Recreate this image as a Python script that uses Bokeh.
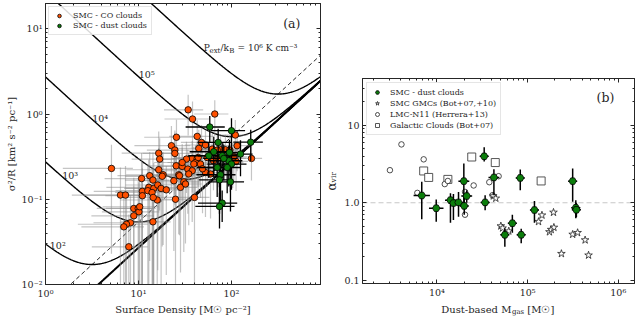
import numpy as np
from bokeh.plotting import figure
from bokeh.layouts import row, column
from bokeh.models import (LogAxis, LogTicker, CustomJSTickFormatter, Label, Span,
                          Legend, LegendItem, Spacer)
from bokeh.embed import file_html
from bokeh.resources import INLINE

FONT = "DejaVu Serif"
INK = "#262626"

# ---------------- panel (a): SMC CO clouds ----------------
sd_co = [34.2, 66.1, 38.1, 25.6, 42.8, 47.6, 44.5, 22.6, 24.6, 24.6,
         16.5, 16.9, 5.12, 16.5, 18.4, 25.4, 29.5, 33.9, 37.8, 42.8,
         41.0, 27.1, 52.5, 62.0, 76.2, 86.1, 110, 115, 164, 103,
         43.9, 54.8, 10.8, 13.2, 14.3, 18.0, 12.9, 14.6, 16.1, 17.5,
         11.0, 11.0, 12.6, 15.9, 19.9, 25.0, 24.0, 27.6, 30.7, 28.3,
         40.0, 37.8, 6.4, 7.25, 8.9, 9.93, 10.1, 8.9, 8.2, 7.43,
         6.95, 7.87, 14.3, 52.5, 59.5, 14.0, 14.4, 32.0, 34.7, 39.3,
         10.3, 46.4, 32.8, 29.5, 70.2, 95.9, 95.9, 112, 106, 64,
         72.5, 48.8]
vir_co = [1.12, 1.00, 0.874, 0.534, 0.546, 0.464, 0.395, 0.425, 0.378, 0.345,
          0.347, 0.296, 0.230, 0.222, 0.194, 0.247, 0.243, 0.226, 0.301, 0.301,
          0.270, 0.194, 0.433, 0.388, 0.381, 0.381, 0.567, 0.425, 0.301, 0.301,
          0.309, 0.309, 0.175, 0.189, 0.168, 0.186, 0.138, 0.134, 0.147, 0.134,
          0.124, 0.110, 0.126, 0.098, 0.129, 0.100, 0.165, 0.189, 0.160, 0.138,
          0.105, 0.216, 0.112, 0.112, 0.078, 0.078, 0.0713, 0.064, 0.053, 0.0509,
          0.0475, 0.0277, 0.0544, 0.206, 0.198, 0.120, 0.105, 0.151, 0.198, 0.259,
          0.0817, 0.259, 0.296, 0.270, 0.378, 0.378, 0.270, 0.278, 0.315, 0.283,
          0.307, 0.228]
# fractional (linear) uncertainties
sd_co_ferr = [0.45, 0.4, 0.5, 0.55, 0.5, 0.4, 0.45, 0.6, 0.5, 0.55,
              0.6, 0.5, 0.7, 0.55, 0.6, 0.5, 0.45, 0.5, 0.4, 0.45,
              0.5, 0.55, 0.4, 0.35, 0.4, 0.45, 0.35, 0.4, 0.3, 0.4,
              0.45, 0.4, 0.6, 0.55, 0.5, 0.6, 0.65, 0.5, 0.55, 0.6,
              0.7, 0.6, 0.55, 0.6, 0.5, 0.5, 0.55, 0.45, 0.5, 0.5,
              0.45, 0.5, 0.7, 0.65, 0.6, 0.55, 0.6, 0.65, 0.6, 0.7,
              0.65, 0.6, 0.55, 0.4, 0.45, 0.6, 0.55, 0.5, 0.45, 0.4,
              0.6, 0.45, 0.5, 0.5, 0.4, 0.35, 0.4, 0.35, 0.4, 0.4,
              0.4, 0.45]
vir_co_ferr = [0.5, 0.45, 0.6, 0.6, 0.55, 0.6, 0.65, 0.7, 0.7, 0.75,
               0.8, 0.75, 0.9, 0.8, 0.85, 0.7, 0.65, 0.7, 0.6, 0.55,
               0.6, 0.8, 0.5, 0.5, 0.45, 0.5, 0.5, 0.5, 0.45, 0.55,
               0.6, 0.55, 1.0, 0.9, 1.1, 0.85, 1.1, 1.0, 0.9, 0.95,
               1.2, 1.1, 1.0, 1.2, 0.9, 1.0, 0.85, 0.8, 0.85, 0.9,
               1.0, 0.75, 1.1, 1.2, 1.3, 1.1, 1.2, 1.2, 1.1, 1.3,
               1.2, 1.4, 1.1, 0.7, 0.7, 1.0, 1.1, 0.8, 0.75, 0.6,
               1.1, 0.6, 0.6, 0.65, 0.5, 0.5, 0.55, 0.55, 0.5, 0.55,
               0.55, 0.7]

# ---------------- panel (a): SMC dust clouds ----------------
sd_dust = [58.4, 100, 71.9, 161, 64.5, 57.0, 79.4, 95.1, 125, 93.5,
           82.6, 100, 70.2, 89.9, 76.2, 74.3, 97.5, 79.4, 74.3]
vir_dust = [0.704, 0.637, 0.464, 0.467, 0.361, 0.324, 0.324, 0.354, 0.339, 0.283,
            0.301, 0.259, 0.236, 0.236, 0.194, 0.169, 0.160, 0.0902, 0.0823]
sd_dust_ferr = [0.45, 0.4, 0.4, 0.35, 0.45, 0.4, 0.45, 0.4, 0.35, 0.4,
                0.4, 0.45, 0.4, 0.4, 0.45, 0.4, 0.4, 0.45, 0.45]
vir_dust_ferr = [0.35, 0.4, 0.45, 0.4, 0.5, 0.45, 0.45, 0.4, 0.45, 0.5,
                 0.45, 0.5, 0.55, 0.5, 0.5, 0.6, 0.55, 0.4, 0.45]

# model curves (Field et al. 2011 style)
pressures = [1e2, 1e3, 1e4, 1e5, 1e6]          # P_ext/k_B [K cm^-3]
G_GRAV = 4.302e-3                              # pc (km/s)^2 / Msun
GAMMA = 0.6
PK_TO_INTERNAL = 2.039e-4                      # K cm^-3 -> Msun pc^-3 (km/s)^2

# ---------------- panel (b) ----------------
mgas_dust = [6800, 9820, 14100, 15200, 17300, 19800, 20000, 21300, 33200, 34000,
             42500, 56100, 67900, 85000, 83000, 119000, 314000, 340000, 345000]
avir_dust = [1.24, 0.85, 1.08, 0.99, 1.01, 1.9, 0.91, 1.22, 3.97, 1.01,
             2.12, 0.385, 0.544, 0.385, 2.09, 0.805, 1.9, 0.86, 0.81]
avir_dust_lo = [0.61, 0.57, 0.55, 0.6, 0.66, 1.0, 0.7, 1.0, 3.4, 0.8,
                1.25, 0.27, 0.41, 0.30, 1.45, 0.55, 1.03, 0.63, 0.65]
avir_dust_hi = [1.86, 1.1, 1.33, 1.3, 1.38, 3.2, 1.2, 1.45, 5.2, 1.25,
                2.7, 0.47, 0.70, 0.46, 2.68, 1.05, 2.76, 1.08, 1.0]
mgas_dust_dex = [0.09, 0.08, 0.06, 0.05, 0.05, 0.06, 0.05, 0.06, 0.05, 0.05,
                 0.06, 0.05, 0.05, 0.05, 0.05, 0.05, 0.05, 0.05, 0.05]

mgas_gmc = [41800, 44600, 50700, 53000, 62000, 132000, 144000, 193000, 174000, 182000,
            195000, 236000, 314000, 356000, 431000, 470000]
avir_gmc = [1.22, 1.14, 0.50, 0.47, 0.43, 0.57, 0.69, 0.75, 0.42, 0.45,
            0.48, 0.22, 0.39, 0.41, 0.33, 0.21]

mgas_lmc = [3030, 4060, 7140, 6080, 12200, 13200, 20400, 20400, 25400, 37800, 41000, 47900]
avir_lmc = [2.63, 5.66, 3.63, 1.34, 1.74, 1.91, 1.38, 0.70, 1.67, 1.84, 1.25, 2.2]

mgas_gal = [7140, 8110, 13200, 24200, 44000, 141000]
avir_gal = [2.57, 2.12, 2.0, 3.89, 3.3, 1.91]

ORANGE = "#ff5000"
GREEN = "#0b7d0b"

SUP_CODE = """
const sup = {"-": "\\u207b", "0": "\\u2070", "1": "\\u00b9", "2": "\\u00b2", "3": "\\u00b3",
             "4": "\\u2074", "5": "\\u2075", "6": "\\u2076", "7": "\\u2077", "8": "\\u2078", "9": "\\u2079"};
const e = Math.round(Math.log10(tick));
let s = "";
for (const c of String(e)) { s += sup[c]; }
return "10" + s;
"""


def style_axis(ax, show_labels=True):
    ax.major_tick_in = 4
    ax.major_tick_out = 0
    ax.minor_tick_in = 2
    ax.minor_tick_out = 0
    ax.axis_line_color = INK
    ax.major_tick_line_color = INK
    ax.minor_tick_line_color = INK
    ax.major_label_text_font = FONT
    ax.major_label_text_color = INK
    ax.axis_label_text_font = FONT
    ax.axis_label_text_font_style = "normal"
    ax.axis_label_text_font_size = "10px"
    ax.axis_label_text_color = INK
    ax.axis_label_standoff = 2
    if show_labels:
        ax.major_label_text_font_size = "9.5px"
        ax.major_label_standoff = 3
    else:
        ax.major_label_text_font_size = "0px"
        ax.major_label_standoff = 0


def finish(p, xcode, ycode, xlabel, ylabel, ylabel_size="10px"):
    p.grid.visible = False
    p.outline_line_color = INK
    p.outline_line_width = 1
    p.background_fill_color = "white"
    p.border_fill_color = "white"
    bottom = p.below[0]
    left = p.left[0]
    bottom.ticker = LogTicker(num_minor_ticks=10)
    left.ticker = LogTicker(num_minor_ticks=10)
    bottom.formatter = CustomJSTickFormatter(code=xcode)
    left.formatter = CustomJSTickFormatter(code=ycode)
    style_axis(bottom)
    style_axis(left)
    bottom.axis_label = xlabel
    left.axis_label = ylabel
    left.axis_label_text_font_size = ylabel_size
    top = LogAxis(ticker=LogTicker(num_minor_ticks=10),
                  formatter=CustomJSTickFormatter(code="return ''"))
    right = LogAxis(ticker=LogTicker(num_minor_ticks=10),
                    formatter=CustomJSTickFormatter(code="return ''"))
    style_axis(top, False)
    style_axis(right, False)
    p.add_layout(top, "above")
    p.add_layout(right, "right")


def label(p, text, x, y, size="9.5px", align="left", units="screen"):
    p.add_layout(Label(x=x, y=y, x_units=units, y_units=units, text=text,
                       text_font=FONT, text_font_size=size, text_color=INK,
                       text_align=align, text_baseline="alphabetic"))


def style_legend(lg, glyph_h, margin, standoff):
    lg.label_text_font = FONT
    lg.label_text_font_size = "8px"
    lg.label_text_color = INK
    lg.glyph_width = 12
    lg.glyph_height = glyph_h
    lg.label_height = glyph_h
    lg.spacing = 1
    lg.padding = 4
    lg.margin = margin
    lg.label_standoff = standoff
    lg.border_line_color = "#cccccc"
    lg.background_fill_alpha = 0.85


# ================= panel (a) =================
p1 = figure(width=322, height=320, x_axis_type="log", y_axis_type="log",
            x_range=(1, 906), y_range=(0.01, 19.8),
            output_backend="svg", toolbar_location=None,
            min_border_left=45, min_border_right=2, min_border_top=3, min_border_bottom=36)

sig = np.logspace(0, 3, 400)
for P in pressures:
    pe = P * PK_TO_INTERNAL
    p1.line(sig, (np.pi * GAMMA * G_GRAV * sig + 4 * pe / sig) / 3.0,
            line_color="black", line_width=1.4)
p1.line(sig, 2 * np.pi * GAMMA * G_GRAV * sig / 3.0, line_color="black",
        line_width=1.0, line_dash="4 3")
p1.line(sig, np.pi * GAMMA * G_GRAV * sig / 3.0, line_color="black", line_width=2.0)

x0 = [s * (1 - f) for s, f in zip(sd_co, sd_co_ferr)]
x1 = [s * (1 + f) for s, f in zip(sd_co, sd_co_ferr)]
y0 = [max(v * (1 - f), 1e-3) for v, f in zip(vir_co, vir_co_ferr)]
y1 = [v * (1 + f) for v, f in zip(vir_co, vir_co_ferr)]
p1.segment(x0, vir_co, x1, vir_co, line_color="#8c8c8c", line_alpha=0.5, line_width=1.2)
p1.segment(sd_co, y0, sd_co, y1, line_color="#8c8c8c", line_alpha=0.5, line_width=1.2)
r_co = p1.scatter(sd_co, vir_co, marker="circle", size=6.5, fill_color=ORANGE,
                  line_color="black", line_width=0.8)

dx0 = [s * (1 - f) for s, f in zip(sd_dust, sd_dust_ferr)]
dx1 = [s * (1 + f) for s, f in zip(sd_dust, sd_dust_ferr)]
dy0 = [max(v * (1 - f), 1e-3) for v, f in zip(vir_dust, vir_dust_ferr)]
dy1 = [v * (1 + f) for v, f in zip(vir_dust, vir_dust_ferr)]
p1.segment(dx0, vir_dust, dx1, vir_dust, line_color="black", line_width=1.3)
p1.segment(sd_dust, dy0, sd_dust, dy1, line_color="black", line_width=1.3)
r_dust_a = p1.scatter(sd_dust, vir_dust, marker="circle", size=6.5, fill_color=GREEN,
                      line_color="black", line_width=0.8)

finish(p1, SUP_CODE, SUP_CODE,
       "Surface Density [M\u2609 pc\u207b\u00b2]",
       "\u03c3\u00b2/R [km\u00b2 s\u207b\u00b2 pc\u207b\u00b9]")

label(p1, "10\u00b2", 4.3, 39)
label(p1, "10\u00b3", 16.7, 109)
label(p1, "10\u2074", 46.7, 165.7)
label(p1, "10\u2075", 93.3, 210)
label(p1, "P", 158.3, 236.5, "9px")
label(p1, "ext", 164.0, 234, "7px")
label(p1, "/k", 175.0, 236.5, "9px")
label(p1, "B", 183.8, 234, "7px")
label(p1, "= 10\u2076 K cm\u207b\u00b3", 192.0, 236.5, "9px")
label(p1, "(a)", 237.7, 261.5, "12.5px")

leg_a = Legend(items=[LegendItem(label="SMC - CO clouds", renderers=[r_co]),
                      LegendItem(label="SMC - dust clouds", renderers=[r_dust_a])],
               location="top_left")
style_legend(leg_a, 9, 3, 8)
p1.add_layout(leg_a)

# ================= panel (b) =================
p2 = figure(width=316, height=224, x_axis_type="log", y_axis_type="log",
            x_range=(1510, 1.51e6), y_range=(0.0907, 40.1),
            output_backend="svg", toolbar_location=None,
            min_border_left=38, min_border_right=4, min_border_top=2, min_border_bottom=16)

p2.add_layout(Span(location=1.0, dimension="width", line_color="#c8c8c8",
                   line_dash="5 3", line_width=1.2, level="underlay"))

r_gal = p2.scatter(mgas_gal, avir_gal, marker="square", size=8, fill_color="white",
                   line_color="#444444", line_width=0.9)
r_lmc = p2.scatter(mgas_lmc, avir_lmc, marker="circle", size=5.5, fill_color="white",
                   line_color="#222222", line_width=0.8)
r_gmc = p2.scatter(mgas_gmc, avir_gmc, marker="star", size=8, fill_color="white",
                   line_color="#222222", line_width=0.8)

mx0 = [m / 10 ** d for m, d in zip(mgas_dust, mgas_dust_dex)]
mx1 = [m * 10 ** d for m, d in zip(mgas_dust, mgas_dust_dex)]
p2.segment(mx0, avir_dust, mx1, avir_dust, line_color="black", line_width=1.5)
p2.segment(mgas_dust, avir_dust_lo, mgas_dust, avir_dust_hi, line_color="black", line_width=1.5)
r_dust_b = p2.scatter(mgas_dust, avir_dust, marker="hex", size=7.5, fill_color=GREEN,
                      line_color="black", line_width=0.8)

finish(p2, SUP_CODE, "return tick >= 10 ? tick.toFixed(0) : tick.toFixed(1);",
       None, "\u03b1\u1d65\u1d62\u1d63", "12px")
label(p2, "(b)", 234, 186, "12.5px")

leg_b = Legend(items=[LegendItem(label="SMC - dust clouds", renderers=[r_dust_b]),
                      LegendItem(label="SMC GMCs (Bot+07,+10)", renderers=[r_gmc]),
                      LegendItem(label="LMC-N11 (Herrera+13)", renderers=[r_lmc]),
                      LegendItem(label="Galactic Clouds (Bot+07)", renderers=[r_gal])],
               location="top_left")
style_legend(leg_b, 10, 4, 7)
p2.add_layout(leg_b)

# caption strip carrying the panel (b) x-axis title (with subscripts);
# its frame is aligned with the panel (b) frame by the column layout
cap = figure(width=316, height=16, x_range=(0, 274), y_range=(0, 16),
             output_backend="svg", toolbar_location=None,
             x_axis_location=None, y_axis_location=None,
             min_border_left=38, min_border_right=4, min_border_top=0, min_border_bottom=0)
cap.grid.visible = False
cap.outline_line_color = None
cap.background_fill_color = "white"
cap.border_fill_color = "white"
label(cap, "Dust-based M", 150.0, 7.5, "10px", "right", "data")
label(cap, "gas", 150.5, 5.0, "7px", "left", "data")
label(cap, "[M\u2609]", 166.0, 7.5, "10px", "left", "data")

layout = row(p1, column(Spacer(height=76, width=316), p2, cap))
open("out.html", "w").write(file_html(layout, INLINE))
